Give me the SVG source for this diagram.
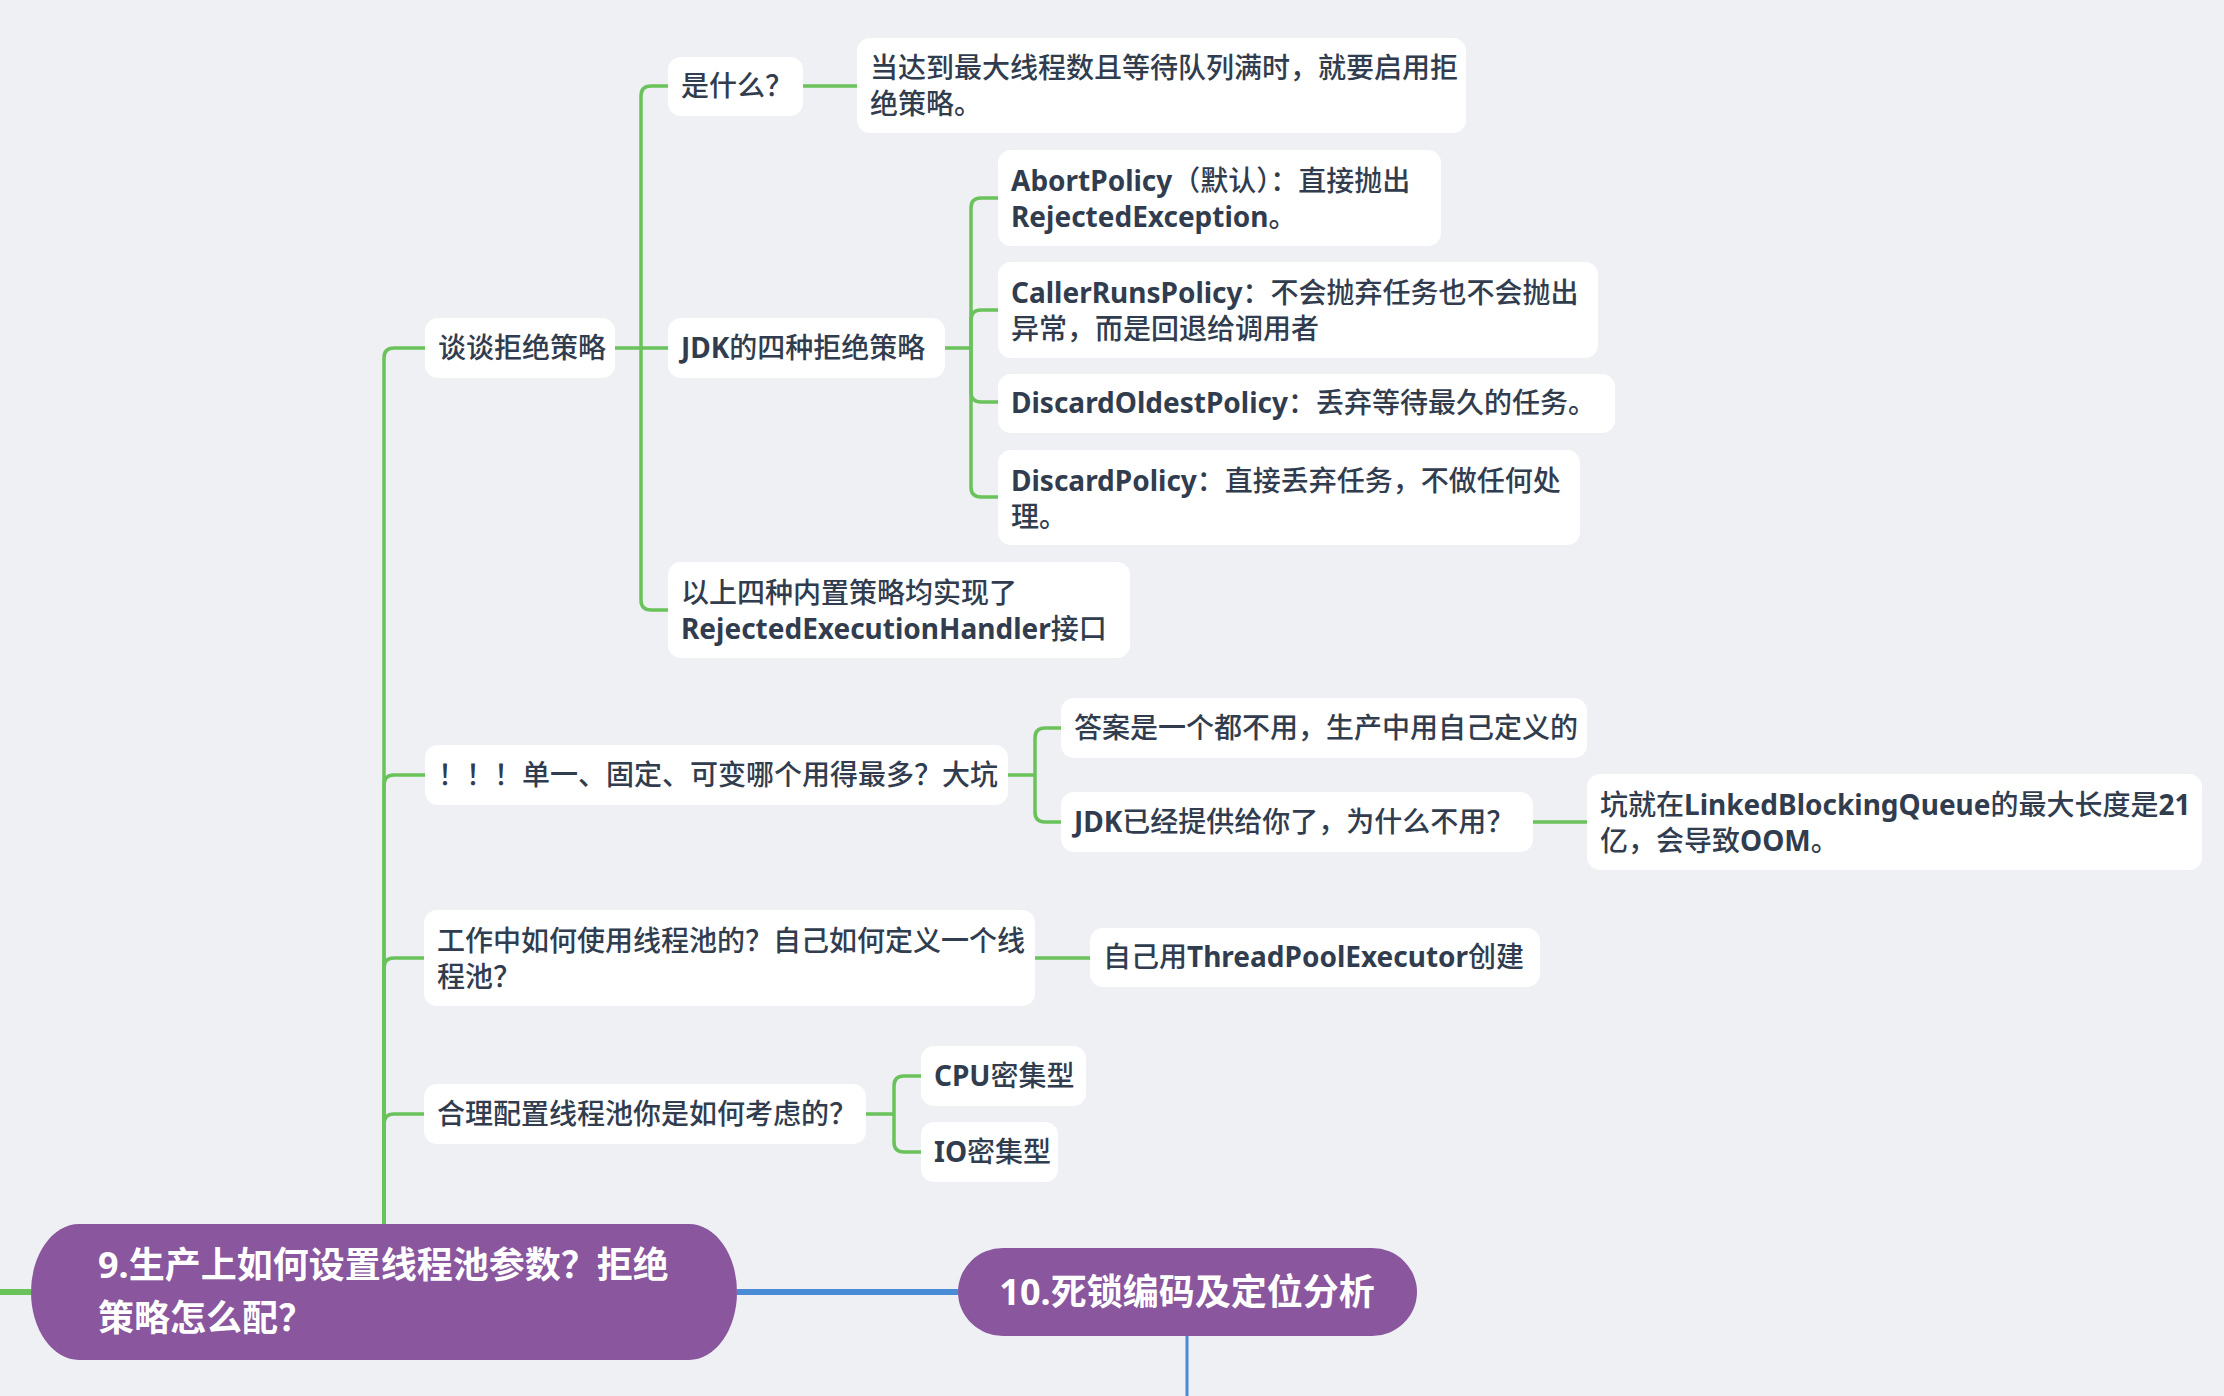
<svg xmlns="http://www.w3.org/2000/svg" width="2224" height="1396" viewBox="0 0 2224 1396">
<style>
.bg{fill:#eef0f4}
.box{fill:#ffffff}
.t{font-family:"Noto Sans CJK SC","Noto Sans",sans-serif;font-size:28px;font-weight:500;fill:#313d4e}
.l{font-family:"Noto Sans","Noto Sans CJK SC",sans-serif;font-weight:700}
.main{fill:#8a569e}
.mt{font-family:"Noto Sans CJK SC","Noto Sans",sans-serif;font-size:36px;font-weight:700;fill:#ffffff}
.mtl{font-family:"Noto Sans","Noto Sans CJK SC",sans-serif;font-weight:700}
.c{fill:none;stroke:#69c25a;stroke-width:3.5;stroke-linecap:butt;stroke-linejoin:round}
</style>
<rect class="bg" x="0" y="0" width="2224" height="1396"/>
<g id="connectors">
<path class="c" d="M384 1224 V358 Q384 348 394 348 H425"/>
<path class="c" d="M384 1224 V785 Q384 775 394 775 H425"/>
<path class="c" d="M384 1224 V968 Q384 958 394 958 H424"/>
<path class="c" d="M384 1224 V1124 Q384 1114 394 1114 H424"/>
<path class="c" d="M615 348 H668"/>
<path class="c" d="M641 348 V96 Q641 86 651 86 H668"/>
<path class="c" d="M641 348 V600 Q641 610 651 610 H668"/>
<path class="c" d="M803 86 H857"/>
<path class="c" d="M945 348 H971"/>
<path class="c" d="M971 348 V208 Q971 198 981 198 H998"/>
<path class="c" d="M971 348 V320 Q971 310 981 310 H998"/>
<path class="c" d="M971 348 V392 Q971 402 981 402 H998"/>
<path class="c" d="M971 348 V487 Q971 497 981 497 H998"/>
<path class="c" d="M1008 775 H1035"/>
<path class="c" d="M1035 775 V738 Q1035 728 1045 728 H1061"/>
<path class="c" d="M1035 775 V812 Q1035 822 1045 822 H1061"/>
<path class="c" d="M1533 822 H1587"/>
<path class="c" d="M1035 958 H1090"/>
<path class="c" d="M866 1114 H894"/>
<path class="c" d="M894 1114 V1086 Q894 1076 904 1076 H921"/>
<path class="c" d="M894 1114 V1142 Q894 1152 904 1152 H921"/>
<path d="M0 1292 H31" fill="none" stroke="#69c25a" stroke-width="6"/>
<path d="M737 1292 H958" fill="none" stroke="#4a8bd6" stroke-width="6"/>
<path d="M1187 1336 V1396" fill="none" stroke="#4a8bd6" stroke-width="3"/>
</g>
<g id="n-what"><rect class="box" x="668" y="57" width="135" height="59" rx="13"/><text class="t" x="681" y="96">是什么？</text></g>
<g id="n-what-ans"><rect class="box" x="857" y="38" width="609" height="95" rx="13"/><text class="t" x="870" y="78">当达到最大线程数且等待队列满时，就要启用拒</text><text class="t" x="870" y="114">绝策略。</text></g>
<g id="n-talk"><rect class="box" x="425" y="318" width="190" height="60" rx="13"/><text class="t" x="438" y="358">谈谈拒绝策略</text></g>
<g id="n-jdk4"><rect class="box" x="668" y="318" width="277" height="60" rx="13"/><text class="t" x="681" y="358"><tspan class="l">JDK</tspan>的四种拒绝策略</text></g>
<g id="n-abort"><rect class="box" x="998" y="150" width="443" height="96" rx="13"/><text class="t" x="1011" y="191"><tspan class="l">AbortPolicy</tspan>（默认）：直接抛出</text><text class="t" x="1011" y="227"><tspan class="l">RejectedException</tspan>。</text></g>
<g id="n-caller"><rect class="box" x="998" y="262" width="600" height="96" rx="13"/><text class="t" x="1011" y="303"><tspan class="l">CallerRunsPolicy</tspan>：不会抛弃任务也不会抛出</text><text class="t" x="1011" y="339">异常，而是回退给调用者</text></g>
<g id="n-oldest"><rect class="box" x="998" y="374" width="617" height="59" rx="13"/><text class="t" x="1011" y="413"><tspan class="l">DiscardOldestPolicy</tspan>：丢弃等待最久的任务。</text></g>
<g id="n-discard"><rect class="box" x="998" y="450" width="582" height="95" rx="13"/><text class="t" x="1011" y="491"><tspan class="l">DiscardPolicy</tspan>：直接丢弃任务，不做任何处</text><text class="t" x="1011" y="527">理。</text></g>
<g id="n-impl"><rect class="box" x="668" y="562" width="462" height="96" rx="13"/><text class="t" x="681" y="603">以上四种内置策略均实现了</text><text class="t" x="681" y="639"><tspan class="l">RejectedExecutionHandler</tspan>接口</text></g>
<g id="n-which"><rect class="box" x="425" y="745" width="583" height="60" rx="13"/><text class="t" x="438" y="785">！！！单一、固定、可变哪个用得最多？大坑</text></g>
<g id="n-ans"><rect class="box" x="1061" y="698" width="526" height="60" rx="13"/><text class="t" x="1074" y="738">答案是一个都不用，生产中用自己定义的</text></g>
<g id="n-jdkwhy"><rect class="box" x="1061" y="792" width="472" height="60" rx="13"/><text class="t" x="1074" y="832"><tspan class="l">JDK</tspan>已经提供给你了，为什么不用？</text></g>
<g id="n-pit"><rect class="box" x="1587" y="774" width="615" height="96" rx="13"/><text class="t" x="1600" y="815">坑就在<tspan class="l">LinkedBlockingQueue</tspan>的最大长度是<tspan class="l">21</tspan></text><text class="t" x="1600" y="851">亿，会导致<tspan class="l">OOM</tspan>。</text></g>
<g id="n-work"><rect class="box" x="424" y="910" width="611" height="96" rx="13"/><text class="t" x="437" y="951">工作中如何使用线程池的？自己如何定义一个线</text><text class="t" x="437" y="987">程池？</text></g>
<g id="n-self"><rect class="box" x="1090" y="928" width="450" height="59" rx="13"/><text class="t" x="1103" y="967">自己用<tspan class="l">ThreadPoolExecutor</tspan>创建</text></g>
<g id="n-config"><rect class="box" x="424" y="1084" width="442" height="60" rx="13"/><text class="t" x="437" y="1124">合理配置线程池你是如何考虑的？</text></g>
<g id="n-cpu"><rect class="box" x="921" y="1046" width="165" height="60" rx="13"/><text class="t" x="934" y="1086"><tspan class="l">CPU</tspan>密集型</text></g>
<g id="n-io"><rect class="box" x="921" y="1122" width="137" height="60" rx="13"/><text class="t" x="934" y="1162"><tspan class="l">IO</tspan>密集型</text></g>
<g id="n-main9"><rect class="main" x="31" y="1224" width="706" height="136" rx="48" ry="68"/><text class="mt" x="98" y="1278"><tspan class="mtl">9.</tspan>生产上如何设置线程池参数？拒绝</text><text class="mt" x="98" y="1331">策略怎么配？</text></g>
<g id="n-10"><rect class="main" x="958" y="1248" width="459" height="88" rx="45" ry="44"/><text class="mt" x="1187" y="1305" text-anchor="middle"><tspan class="mtl">10.</tspan>死锁编码及定位分析</text></g>
</svg>
